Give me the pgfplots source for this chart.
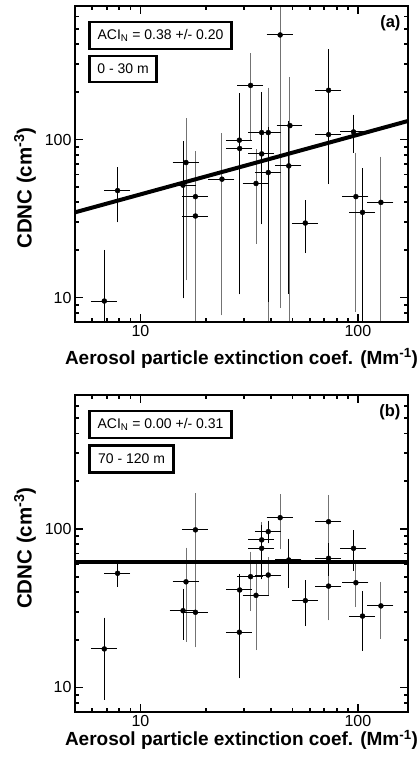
\documentclass[border=0pt]{standalone}
\usepackage{pgfplots}
\pgfplotsset{compat=1.18}
\usepackage{pgfplotstable}
\usepackage{fontspec}
\setmainfont{Liberation Sans}
\definecolor{bargray}{gray}{0.45}

\pgfplotstableread{
x y ep em ex
7.85 47.5 16 16 0.1
15.7 51.4 41 41 0.1
28.5 99 87 88 0.1
28.6 87.7 63 63 0.1
36.1 110.6 80 80 0.1
38.7 61.8 52 52 0.1
48.1 68.1 57 57 0.1
57.3 29.6 9.5 9.5 0.1
73.3 205 150 150 0.1
73.3 107.4 30 30 0.1
95.5 111.7 25 25 0.1
105 34.6 28 33.6 0.1
6.82 9.5 9.5 8.5 0.1
}\aBlack

\pgfplotstableread{
x y ep em ex
16.2 71.5 58 58 0.1
17.9 43.5 36.5 42.5 0.1
17.9 32.8 40 31.8 0.1
23.7 56.1 48 48 0.1
32.1 220 115 115 0.1
34.0 52.7 29.6 29.6 0.1
36.1 81.1 45 45 0.1
38.7 110.6 92 109.6 0.1
43.9 459 450 450 0.1
48.7 122.5 114 121.5 0.1
97.9 43.5 35 35 0.1
127.6 40 34 39 0.1
}\aGray

\pgfplotstableread{
x y ep em ex
6.82 17.5 8.7 8.7 0.1
7.85 52.5 7 7 0.1
15.7 30.5 9.5 9.5 0.1
28.5 22.3 10.3 10.3 0.1
28.6 41.2 8.3 8.3 0.1
36.1 75.5 25 25 0.1
38.7 96.2 11 11 0.1
48.1 63.7 19 19 0.1
57.3 35.3 9.7 9.7 0.1
73.3 65.3 12 12 0.1
95.5 75.5 18 18 0.1
105 28.2 10.3 10.3 0.1
}\bBlack

\pgfplotstableread{
x y ep em ex
16.2 46.4 26 26 0.1
17.9 98.7 61 61 0.1
17.9 29.8 11 11 0.1
32.1 50 18 18 0.1
34.0 38.1 20 20 0.1
36.1 85.3 20 20 0.1
38.7 51.2 11.6 11.6 0.1
43.9 117.8 39.6 39.6 0.1
73.3 111.1 45 45 0.1
73.3 43.6 15.7 15.7 0.1
97.9 45.8 12 12 0.1
127.6 32.7 11.4 11.4 0.1
}\bGray

\pgfplotsset{
  every axis/.append style={
    scale only axis, width=333pt,
    xmin=5, xmax=170, ymin=7, ymax=700,
    xtick={10,100}, xticklabels={10,100},
    ytick={10,100}, yticklabels={10,100},
    minor xtick={6,7,8,9,20,30,40,50,60,70,80,90},
    minor ytick={8,9,20,30,40,50,60,70,80,90,200,300,400,500,600},
    tick align=inside,
    major tick length=8pt, minor tick length=4.5pt,
    tick style={line width=1.8pt, black},
    tick label style={font=\fontsize{16}{18}\selectfont},
  },
}

\begin{document}
\begin{tikzpicture}
\path[use as bounding box] (0pt,0pt) rectangle (419pt,758pt);

\begin{loglogaxis}[at={(75pt,436pt)}, anchor=south west, height=316pt,
  xlabel={\bfseries\fontsize{19}{22}\selectfont Aerosol particle extinction coef. (Mm\textsuperscript{-1})},
  ylabel={\bfseries\fontsize{20.5}{22}\selectfont CDNC (cm\textsuperscript{-3})},
  every axis x label/.style={at={(axis description cs:0.5,-0.133)}, anchor=base},
  every axis y label/.style={at={(axis description cs:-0.150,0.424)}, rotate=90, anchor=center}]
  \addplot[draw=none, mark=none, forget plot, error bars/.cd, y dir=both, y explicit,
    error bar style={line width=1pt, bargray}, error mark options={mark size=3.5pt, line width=1pt, bargray}]
    table[x=x,y=y,y error plus=ep,y error minus=em] {\aGray};
  \addplot[draw=none, mark=none, forget plot, error bars/.cd, y dir=both, y explicit,
    error bar style={line width=1pt, black}, error mark options={mark size=3.5pt, line width=1pt, black}]
    table[x=x,y=y,y error plus=ep,y error minus=em] {\aBlack};
  \addplot[only marks, mark=*, mark size=2.5pt, black, forget plot, error bars/.cd, x dir=both, x explicit relative,
    error bar style={line width=1pt, black}, error mark options={mark size=3.5pt, line width=1pt, black}]
    table[x=x,y=y,x error=ex] {\aGray};
  \addplot[only marks, mark=*, mark size=2.5pt, black, forget plot, error bars/.cd, x dir=both, x explicit relative,
    error bar style={line width=1pt, black}, error mark options={mark size=3.5pt, line width=1pt, black}]
    table[x=x,y=y,x error=ex] {\aBlack};
  \addplot[line width=4pt, black, no marks] coordinates {(5,34.6) (170,131)};
  \node[draw, line width=2.4pt, anchor=north west, minimum width=142pt, minimum height=27pt, inner sep=0pt,
        font=\fontsize{14}{16}\selectfont] at (rel axis cs:0.040,0.953) {ACI\textsubscript{N} = 0.38 +/- 0.20};
  \node[draw, line width=2.4pt, anchor=north west, minimum width=67pt, minimum height=26pt, inner sep=0pt,
        font=\fontsize{14}{16}\selectfont] at (rel axis cs:0.040,0.845) {0 - 30 m};
  \node[anchor=east, inner sep=0pt, font=\bfseries\fontsize{16.5}{18}\selectfont] at (rel axis cs:0.978,0.945) {(a)};
\end{loglogaxis}

\begin{loglogaxis}[at={(75pt,46pt)}, anchor=south west, height=317pt,
  xlabel={\bfseries\fontsize{19}{22}\selectfont Aerosol particle extinction coef. (Mm\textsuperscript{-1})},
  ylabel={\bfseries\fontsize{20.5}{22}\selectfont CDNC (cm\textsuperscript{-3})},
  every axis x label/.style={at={(axis description cs:0.5,-0.105)}, anchor=base},
  every axis y label/.style={at={(axis description cs:-0.150,0.517)}, rotate=90, anchor=center}]
  \addplot[draw=none, mark=none, forget plot, error bars/.cd, y dir=both, y explicit,
    error bar style={line width=1pt, bargray}, error mark options={mark size=3.5pt, line width=1pt, bargray}]
    table[x=x,y=y,y error plus=ep,y error minus=em] {\bGray};
  \addplot[draw=none, mark=none, forget plot, error bars/.cd, y dir=both, y explicit,
    error bar style={line width=1pt, black}, error mark options={mark size=3.5pt, line width=1pt, black}]
    table[x=x,y=y,y error plus=ep,y error minus=em] {\bBlack};
  \addplot[only marks, mark=*, mark size=2.5pt, black, forget plot, error bars/.cd, x dir=both, x explicit relative,
    error bar style={line width=1pt, black}, error mark options={mark size=3.5pt, line width=1pt, black}]
    table[x=x,y=y,x error=ex] {\bGray};
  \addplot[only marks, mark=*, mark size=2.5pt, black, forget plot, error bars/.cd, x dir=both, x explicit relative,
    error bar style={line width=1pt, black}, error mark options={mark size=3.5pt, line width=1pt, black}]
    table[x=x,y=y,x error=ex] {\bBlack};
  \addplot[line width=4pt, black, no marks] coordinates {(5,62) (170,62)};
  \node[draw, line width=2.4pt, anchor=north west, minimum width=142pt, minimum height=27pt, inner sep=0pt,
        font=\fontsize{14}{16}\selectfont] at (rel axis cs:0.040,0.954) {ACI\textsubscript{N} = 0.00 +/- 0.31};
  \node[draw, line width=2.4pt, anchor=north west, minimum width=84pt, minimum height=27pt, inner sep=0pt,
        font=\fontsize{14}{16}\selectfont] at (rel axis cs:0.040,0.845) {70 - 120 m};
  \node[anchor=east, inner sep=0pt, font=\bfseries\fontsize{16.5}{18}\selectfont] at (rel axis cs:0.978,0.945) {(b)};
\end{loglogaxis}

\draw[line width=2.7pt, line join=miter] (75pt,436pt) rectangle (408pt,752pt);
\draw[line width=2.7pt, line join=miter] (75pt,46pt) rectangle (408pt,363pt);
\end{tikzpicture}
\end{document}
